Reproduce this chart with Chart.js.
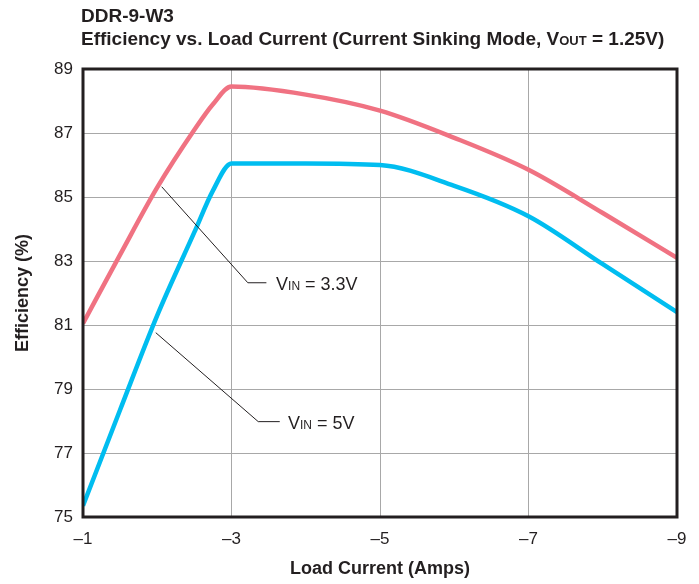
<!DOCTYPE html>
<html>
<head>
<meta charset="utf-8">
<script src="https://cdn.jsdelivr.net/npm/chart.js@4.4.1/dist/chart.umd.min.js"></script>
<style>
  html, body { margin: 0; padding: 0; background: #fff; }
  #wrap { width: 699px; height: 584px; }
</style>
</head>
<body>
<div id="wrap"><canvas id="chart" width="699" height="584"></canvas></div>
<script>
// load current (A), negative = sinking
const loadCurrent = [-1, -1.5, -2, -2.5, -2.75, -3, -4, -5, -6, -7, -8, -9];
const effVin33 = [81.05, 83.2, 85.3, 87.1, 87.9, 88.45, 88.2, 87.7, 86.85, 85.85, 84.5, 83.1];
const effVin5 = [75.35, 78.35, 81.3, 83.9, 85.2, 86.05, 86.05, 86.0, 85.35, 84.4, 82.9, 81.4];

const FONT = "'Liberation Sans', Arial, Helvetica, sans-serif";
const INK = "#231f20";

// callouts in data units: leader points, then where the label starts
const callouts = [
  { sub: ["V", "IN", " = 3.3V"], path: [[-2.06, 85.32], [-3.22, 82.32], [-3.47, 82.32]], at: [-3.6, 82.27] },
  { sub: ["V", "IN", " = 5V"], path: [[-1.98, 80.76], [-3.36, 77.98], [-3.65, 77.98]], at: [-3.76, 77.93] },
];

const toPoints = (ys) => loadCurrent.map((x, i) => ({ x: x, y: ys[i] }));

function drawRuns(ctx, runs, x, y) {
  ctx.textBaseline = "alphabetic";
  ctx.textAlign = "left";
  runs.forEach(([text, font]) => {
    ctx.font = font;
    ctx.fillText(text, x, y);
    x += ctx.measureText(text).width;
  });
}

const framePlugin = {
  id: "frame",
  afterDatasetsDraw(chart) {
    const { ctx, chartArea: a } = chart;
    ctx.save();
    ctx.strokeStyle = INK;
    ctx.lineWidth = 3;
    ctx.strokeRect(a.left, a.top, a.right - a.left, a.bottom - a.top);
    ctx.restore();
  },
};

const calloutPlugin = {
  id: "callouts",
  afterDatasetsDraw(chart) {
    const { ctx } = chart;
    const xs = chart.scales.x, ys = chart.scales.y;
    ctx.save();
    ctx.strokeStyle = INK;
    ctx.fillStyle = INK;
    ctx.lineWidth = 1;
    callouts.forEach((c) => {
      ctx.beginPath();
      c.path.forEach(([x, y], i) => {
        const px = xs.getPixelForValue(x), py = ys.getPixelForValue(y);
        if (i === 0) ctx.moveTo(px, py); else ctx.lineTo(px, py);
      });
      ctx.stroke();
      const lx = xs.getPixelForValue(c.at[0]);
      const ly = ys.getPixelForValue(c.at[1]) + 6;
      drawRuns(ctx, [
        [c.sub[0], "18px " + FONT],
        [c.sub[1], "12px " + FONT],
        [c.sub[2], "18px " + FONT],
      ], lx, ly);
    });
    ctx.restore();
  },
};

const titlePlugin = {
  id: "titles",
  afterDraw(chart) {
    const { ctx } = chart;
    ctx.save();
    ctx.fillStyle = INK;
    const b = "bold 19px " + FONT;
    drawRuns(ctx, [["DDR-9-W3", b]], 81, 22);
    drawRuns(ctx, [
      ["Efficiency vs. Load Current (Current Sinking Mode, V", b],
      ["OUT", "bold 13px " + FONT],
      [" = 1.25V)", b],
    ], 81, 45);
    ctx.restore();
  },
};

new Chart(document.getElementById("chart"), {
  type: "line",
  data: {
    datasets: [
      {
        label: "VIN = 3.3V",
        data: toPoints(effVin33),
        borderColor: "#f07282",
        borderWidth: 4.5,
        pointRadius: 0,
        cubicInterpolationMode: "monotone",
        fill: false,
      },
      {
        label: "VIN = 5V",
        data: toPoints(effVin5),
        borderColor: "#00bdf0",
        borderWidth: 4.5,
        pointRadius: 0,
        cubicInterpolationMode: "monotone",
        fill: false,
      },
    ],
  },
  options: {
    responsive: false,
    animation: false,
    devicePixelRatio: 1,
    layout: { padding: { top: 69, right: 22, left: 0, bottom: 0 } },
    plugins: {
      legend: { display: false },
      tooltip: { enabled: false },
    },
    scales: {
      x: {
        type: "linear",
        min: -9,
        max: -1,
        reverse: true,
        afterFit: (s) => { s.height = 67; },
        border: { display: false },
        grid: { color: "#a8a8a8", lineWidth: 1, drawTicks: false },
        ticks: {
          stepSize: 2,
          padding: 12,
          color: INK,
          font: { family: FONT, size: 17 },
          callback: (v) => "\u2013" + Math.abs(v),
        },
        title: {
          display: true,
          text: "Load Current (Amps)",
          color: INK,
          font: { family: FONT, size: 18, weight: "bold" },
          padding: { top: 0, bottom: 4 },
        },
      },
      y: {
        min: 75,
        max: 89,
        afterFit: (s) => { s.width = 83; },
        border: { display: false },
        grid: { color: "#a8a8a8", lineWidth: 1, drawTicks: false },
        ticks: {
          stepSize: 2,
          padding: 10,
          color: INK,
          font: { family: FONT, size: 17 },
        },
        title: {
          display: true,
          text: "Efficiency (%)",
          color: INK,
          font: { family: FONT, size: 18, weight: "bold" },
          padding: { top: 12, bottom: 0 },
        },
      },
    },
  },
  plugins: [framePlugin, calloutPlugin, titlePlugin],
});
</script>
</body>
</html>
